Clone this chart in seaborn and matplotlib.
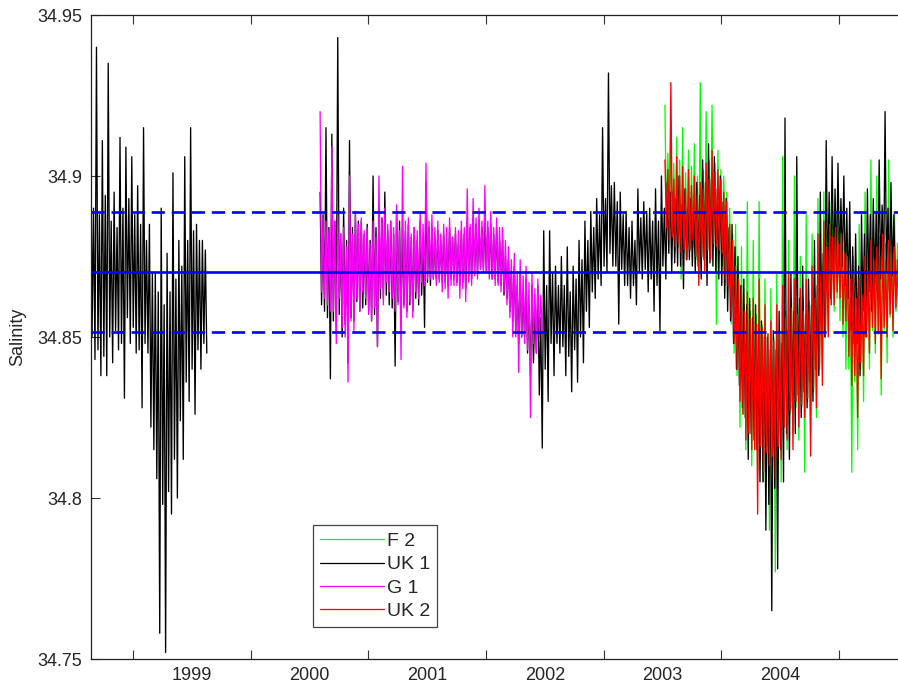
import numpy as np
import pandas as pd
import matplotlib
matplotlib.use("Agg")
import matplotlib.pyplot as plt
from matplotlib.lines import Line2D
import seaborn as sns

# ---------------- data ----------------
# For every bin of BIN years four readings are kept: the spike maximum (hi),
# the bottom and top of the dense core of the trace (core_lo / core_hi) and
# the spike minimum (lo).
BIN = 0.05

uk1_a_start = 1998.64
uk1_a_hi = [34.935, 34.940, 34.911, 34.935, 34.895, 34.912, 34.909, 34.906, 34.897, 34.915,
            34.885, 34.870, 34.890, 34.876, 34.901, 34.880, 34.906, 34.915, 34.885, 34.880]
uk1_a_core_hi = [34.890, 34.888, 34.894, 34.886, 34.884, 34.890, 34.893, 34.888, 34.885, 34.880,
                 34.870, 34.864, 34.860, 34.864, 34.868, 34.872, 34.880, 34.883, 34.880, 34.877]
uk1_a_core_lo = [34.850, 34.846, 34.844, 34.850, 34.852, 34.848, 34.856, 34.853, 34.846, 34.848,
                 34.822, 34.806, 34.798, 34.802, 34.812, 34.824, 34.836, 34.840, 34.846, 34.848]
uk1_a_lo = [34.843, 34.838, 34.838, 34.842, 34.846, 34.831, 34.848, 34.845, 34.828, 34.845,
            34.815, 34.758, 34.752, 34.795, 34.800, 34.812, 34.830, 34.826, 34.840, 34.845]

uk1_b_start = 2000.59
uk1_b_hi = [34.895, 34.915, 34.913, 34.943, 34.890, 34.911, 34.888, 34.886, 34.885, 34.900,
            34.888, 34.895, 34.886, 34.889, 34.884, 34.885, 34.884, 34.886, 34.898, 34.884,
            34.883, 34.882, 34.884, 34.882, 34.883, 34.886, 34.887, 34.886, 34.888, 34.885,
            34.884, 34.880, 34.874, 34.872, 34.870, 34.868, 34.866, 34.866, 34.883, 34.883,
            34.872, 34.875, 34.878, 34.872, 34.880, 34.886, 34.889, 34.893, 34.915, 34.932,
            34.898, 34.895, 34.889, 34.886, 34.896, 34.892, 34.890, 34.896, 34.900, 34.898,
            34.895, 34.900, 34.896, 34.893, 34.898, 34.905, 34.910, 34.906, 34.900, 34.893,
            34.885, 34.875, 34.868, 34.862, 34.860, 34.855, 34.850, 34.852, 34.858, 34.918,
            34.870, 34.906, 34.872, 34.868, 34.880, 34.895, 34.911, 34.906, 34.904, 34.900,
            34.892, 34.882, 34.888, 34.896, 34.893, 34.905, 34.920, 34.898]
uk1_b_core_hi = [34.888, 34.884, 34.886, 34.882, 34.880, 34.884, 34.886, 34.882, 34.880, 34.884,
                 34.887, 34.883, 34.882, 34.886, 34.883, 34.881, 34.880, 34.881, 34.884, 34.881,
                 34.880, 34.879, 34.881, 34.879, 34.882, 34.884, 34.885, 34.884, 34.884, 34.882,
                 34.880, 34.875, 34.870, 34.866, 34.864, 34.860, 34.858, 34.856, 34.866, 34.870,
                 34.866, 34.866, 34.864, 34.868, 34.874, 34.880, 34.884, 34.888, 34.893, 34.897,
                 34.892, 34.888, 34.884, 34.880, 34.887, 34.889, 34.886, 34.886, 34.890, 34.895,
                 34.893, 34.891, 34.890, 34.890, 34.894, 34.898, 34.899, 34.896, 34.892, 34.884,
                 34.878, 34.866, 34.860, 34.856, 34.854, 34.850, 34.846, 34.846, 34.848, 34.852,
                 34.858, 34.862, 34.857, 34.860, 34.866, 34.876, 34.895, 34.896, 34.893, 34.890,
                 34.878, 34.872, 34.882, 34.888, 34.889, 34.891, 34.890, 34.888]
uk1_b_core_lo = [34.860, 34.856, 34.855, 34.857, 34.854, 34.856, 34.861, 34.859, 34.858, 34.857,
                 34.862, 34.863, 34.859, 34.861, 34.860, 34.860, 34.862, 34.863, 34.867, 34.868,
                 34.868, 34.867, 34.868, 34.867, 34.867, 34.869, 34.870, 34.871, 34.870, 34.868,
                 34.867, 34.863, 34.858, 34.852, 34.850, 34.845, 34.842, 34.832, 34.840, 34.848,
                 34.848, 34.847, 34.844, 34.846, 34.850, 34.858, 34.864, 34.868, 34.872, 34.876,
                 34.872, 34.871, 34.866, 34.866, 34.870, 34.871, 34.868, 34.866, 34.872, 34.876,
                 34.873, 34.872, 34.874, 34.872, 34.872, 34.874, 34.873, 34.870, 34.866, 34.858,
                 34.848, 34.835, 34.825, 34.820, 34.815, 34.805, 34.798, 34.803, 34.815, 34.820,
                 34.828, 34.832, 34.833, 34.836, 34.840, 34.850, 34.866, 34.870, 34.872, 34.866,
                 34.852, 34.848, 34.858, 34.864, 34.866, 34.868, 34.870, 34.869]
uk1_b_lo = [34.858, 34.837, 34.852, 34.850, 34.842, 34.855, 34.858, 34.860, 34.855, 34.847,
            34.862, 34.860, 34.841, 34.855, 34.858, 34.858, 34.860, 34.853, 34.866, 34.868,
            34.867, 34.866, 34.868, 34.866, 34.865, 34.868, 34.870, 34.871, 34.870, 34.868,
            34.866, 34.862, 34.855, 34.848, 34.850, 34.838, 34.845, 34.8155, 34.830, 34.838,
            34.845, 34.838, 34.833, 34.836, 34.842, 34.853, 34.862, 34.866, 34.870, 34.872,
            34.854, 34.866, 34.862, 34.860, 34.868, 34.864, 34.858, 34.852, 34.868, 34.870,
            34.872, 34.865, 34.874, 34.870, 34.868, 34.866, 34.872, 34.868, 34.862, 34.855,
            34.840, 34.828, 34.812, 34.818, 34.805, 34.790, 34.765, 34.778, 34.805, 34.812,
            34.820, 34.825, 34.828, 34.830, 34.838, 34.850, 34.862, 34.870, 34.872, 34.862,
            34.848, 34.838, 34.850, 34.858, 34.862, 34.866, 34.864, 34.866]

g1_start = 2000.59
g1_hi = [34.920, 34.886, 34.909, 34.888, 34.884, 34.900, 34.889, 34.887, 34.884, 34.886,
         34.900, 34.890, 34.886, 34.891, 34.903, 34.887, 34.884, 34.889, 34.904, 34.888,
         34.886, 34.885, 34.887, 34.884, 34.886, 34.896, 34.893, 34.890, 34.897, 34.889,
         34.887, 34.884, 34.878, 34.876, 34.874, 34.872, 34.870, 34.868]
g1_core_hi = [34.887, 34.883, 34.886, 34.882, 34.878, 34.882, 34.885, 34.883, 34.879, 34.881,
              34.887, 34.885, 34.884, 34.883, 34.886, 34.882, 34.883, 34.885, 34.886, 34.884,
              34.882, 34.884, 34.881, 34.883, 34.884, 34.885, 34.887, 34.886, 34.886, 34.884,
              34.884, 34.880, 34.874, 34.870, 34.869, 34.867, 34.865, 34.863]
g1_core_lo = [34.864, 34.860, 34.858, 34.862, 34.850, 34.855, 34.862, 34.864, 34.857, 34.859,
              34.865, 34.867, 34.862, 34.860, 34.859, 34.861, 34.864, 34.867, 34.868, 34.868,
              34.867, 34.865, 34.866, 34.866, 34.865, 34.867, 34.869, 34.871, 34.870, 34.868,
              34.866, 34.864, 34.856, 34.850, 34.850, 34.846, 34.848, 34.850]
g1_lo = [34.862, 34.858, 34.848, 34.853, 34.836, 34.852, 34.858, 34.862, 34.855, 34.847,
         34.860, 34.864, 34.858, 34.843, 34.856, 34.856, 34.862, 34.866, 34.868, 34.866,
         34.864, 34.862, 34.866, 34.862, 34.861, 34.866, 34.868, 34.870, 34.868, 34.866,
         34.864, 34.860, 34.850, 34.839, 34.848, 34.825, 34.845, 34.852]

uk2_start = 2003.52
uk2_hi = [34.905, 34.929, 34.906, 34.903, 34.902, 34.900, 34.898, 34.904, 34.908, 34.902,
          34.895, 34.885, 34.872, 34.866, 34.864, 34.862, 34.868, 34.860, 34.855, 34.860,
          34.866, 34.870, 34.868, 34.865, 34.868, 34.872, 34.882, 34.886, 34.885, 34.884,
          34.882, 34.875, 34.870, 34.868, 34.875, 34.880, 34.878, 34.882, 34.880, 34.878]
uk2_core_hi = [34.902, 34.899, 34.900, 34.896, 34.897, 34.894, 34.896, 34.899, 34.901, 34.899,
               34.892, 34.880, 34.868, 34.858, 34.856, 34.854, 34.853, 34.851, 34.849, 34.851,
               34.856, 34.859, 34.857, 34.858, 34.858, 34.862, 34.870, 34.878, 34.881, 34.879,
               34.876, 34.868, 34.862, 34.863, 34.870, 34.874, 34.875, 34.874, 34.876, 34.874]
uk2_core_lo = [34.884, 34.881, 34.879, 34.877, 34.877, 34.875, 34.875, 34.877, 34.879, 34.877,
               34.868, 34.856, 34.840, 34.826, 34.820, 34.815, 34.816, 34.814, 34.813, 34.816,
               34.822, 34.827, 34.830, 34.829, 34.831, 34.834, 34.840, 34.850, 34.860, 34.864,
               34.854, 34.844, 34.838, 34.842, 34.850, 34.853, 34.851, 34.853, 34.857, 34.859]
uk2_lo = [34.880, 34.878, 34.876, 34.874, 34.880, 34.866, 34.870, 34.874, 34.878, 34.876,
          34.866, 34.848, 34.830, 34.818, 34.815, 34.795, 34.808, 34.810, 34.806, 34.812,
          34.818, 34.815, 34.822, 34.825, 34.813, 34.828, 34.835, 34.850, 34.860, 34.862,
          34.855, 34.835, 34.825, 34.838, 34.845, 34.848, 34.837, 34.850, 34.852, 34.855]

f2_start = 2003.52
f2_hi = [34.922, 34.917, 34.912, 34.915, 34.908, 34.910, 34.929, 34.920, 34.922, 34.908,
         34.900, 34.890, 34.885, 34.878, 34.892, 34.880, 34.892, 34.868, 34.865, 34.870,
         34.906, 34.880, 34.900, 34.875, 34.888, 34.882, 34.893, 34.895, 34.892, 34.890,
         34.888, 34.880, 34.875, 34.885, 34.895, 34.905, 34.900, 34.890, 34.905, 34.888]
f2_core_hi = [34.907, 34.904, 34.905, 34.901, 34.903, 34.900, 34.902, 34.905, 34.904, 34.902,
              34.895, 34.882, 34.870, 34.860, 34.858, 34.857, 34.854, 34.851, 34.850, 34.852,
              34.858, 34.862, 34.860, 34.862, 34.861, 34.865, 34.873, 34.882, 34.885, 34.883,
              34.878, 34.870, 34.864, 34.868, 34.875, 34.880, 34.881, 34.879, 34.882, 34.879]
f2_core_lo = [34.884, 34.880, 34.878, 34.876, 34.877, 34.874, 34.875, 34.877, 34.878, 34.876,
              34.866, 34.854, 34.838, 34.826, 34.820, 34.815, 34.814, 34.810, 34.811, 34.815,
              34.822, 34.826, 34.828, 34.828, 34.830, 34.833, 34.840, 34.850, 34.860, 34.862,
              34.850, 34.840, 34.836, 34.840, 34.850, 34.852, 34.851, 34.852, 34.856, 34.858]
f2_lo = [34.880, 34.876, 34.868, 34.875, 34.878, 34.870, 34.872, 34.875, 34.854, 34.872,
         34.866, 34.845, 34.822, 34.815, 34.810, 34.808, 34.805, 34.790, 34.777, 34.805,
         34.815, 34.820, 34.818, 34.808, 34.820, 34.825, 34.840, 34.852, 34.858, 34.855,
         34.840, 34.808, 34.815, 34.830, 34.840, 34.845, 34.832, 34.842, 34.850, 34.852]

mean_level = 34.8702
band_upper = 34.8889
band_lower = 34.8515

year_ticks = [1999, 2000, 2001, 2002, 2003, 2004, 2005]
year_labels = ["1999", "2000", "2001", "2002", "2003", "2004"]
sal_ticks = [34.75, 34.80, 34.85, 34.90, 34.95]
sal_labels = ["34.75", "34.8", "34.85", "34.9", "34.95"]

legend_names = ["F 2", "UK 1", "G 1", "UK 2"]
colors = {"F 2": "#00ff00", "UK 1": "#000000", "G 1": "#ff00ff", "UK 2": "#ff0000"}


def trace_frame(start, hi, core_lo, core_hi, lo):
    # within each bin the trace visits its four readings in turn
    vals = np.column_stack([hi, core_lo, core_hi, lo]).ravel()
    t = start + np.arange(len(vals)) * BIN / 4.0
    return pd.DataFrame({"year": t, "salinity": vals})


# ---------------- figure ----------------
sns.set_style("white")
plt.rcParams["font.family"] = ["Liberation Sans", "DejaVu Sans"]

W, H = 898, 685
fig = plt.figure(figsize=(W / 100, H / 100), dpi=100)
ax_l, ax_r, ax_t, ax_b = 90.7, 898.0, 15.0, 659.0
ax = fig.add_axes([ax_l / W, (H - ax_b) / H, (ax_r - ax_l) / W, (ax_b - ax_t) / H])

kw = dict(x="year", y="salinity", sort=False, estimator=None, ax=ax, linewidth=0.95, legend=False)
sns.lineplot(data=trace_frame(f2_start, f2_hi, f2_core_lo, f2_core_hi, f2_lo),
             color=colors["F 2"], **kw)
sns.lineplot(data=trace_frame(uk1_a_start, uk1_a_hi, uk1_a_core_lo, uk1_a_core_hi, uk1_a_lo),
             color=colors["UK 1"], **kw)
sns.lineplot(data=trace_frame(uk1_b_start, uk1_b_hi, uk1_b_core_lo, uk1_b_core_hi, uk1_b_lo),
             color=colors["UK 1"], **kw)
sns.lineplot(data=trace_frame(g1_start, g1_hi, g1_core_lo, g1_core_hi, g1_lo),
             color=colors["G 1"], **kw)
sns.lineplot(data=trace_frame(uk2_start, uk2_hi, uk2_core_lo, uk2_core_hi, uk2_lo),
             color=colors["UK 2"], **kw)

ax.axhline(mean_level, color="#0000ff", linewidth=1.9)
for lvl in (band_upper, band_lower):
    ax.axhline(lvl, color="#0000ff", linewidth=1.9, linestyle=(0, (5.0, 2.6)))

x0 = 1998.641
ax.set_xlim(x0, x0 + (ax_r - ax_l) / 117.7)
ax.set_ylim(34.75, 34.95)

ax.set_xticks(year_ticks)
ax.set_xticklabels([""] * len(year_ticks))
ax.set_xticks([y + 0.5 for y in year_ticks[:-1]], minor=True)
ax.set_xticklabels(year_labels, minor=True)
ax.tick_params(axis="x", which="minor", length=0, pad=6, labelsize=13)
ax.tick_params(axis="x", which="major", direction="in", length=6.5, top=True, bottom=True,
               color="#333333", width=0.8)
ax.set_yticks(sal_ticks)
ax.set_yticklabels(sal_labels)
ax.tick_params(axis="y", direction="in", length=6.5, left=True, labelsize=13, pad=6,
               color="#333333", width=0.8)

for side in ("left", "top", "bottom"):
    ax.spines[side].set_color("#222222")
    ax.spines[side].set_linewidth(0.9)
ax.spines["right"].set_visible(False)

ax.set_xlabel("")
ax.set_ylabel("Salinity", fontsize=13, labelpad=8)

handles = [Line2D([0], [0], color=colors[n], linewidth=0.9) for n in legend_names]
leg = ax.legend(handles, legend_names, loc="lower left",
                bbox_to_anchor=((313 - ax_l) / (ax_r - ax_l), (ax_b - 627) / (ax_b - ax_t)),
                fontsize=14, frameon=True, fancybox=False, framealpha=1.0,
                edgecolor="#444444", handlelength=3.3, handletextpad=0.15,
                labelspacing=0.3, borderpad=0.35, borderaxespad=0.0)
leg.get_frame().set_linewidth(0.9)
leg.set_zorder(10)

fig.savefig("out.png", dpi=100)
